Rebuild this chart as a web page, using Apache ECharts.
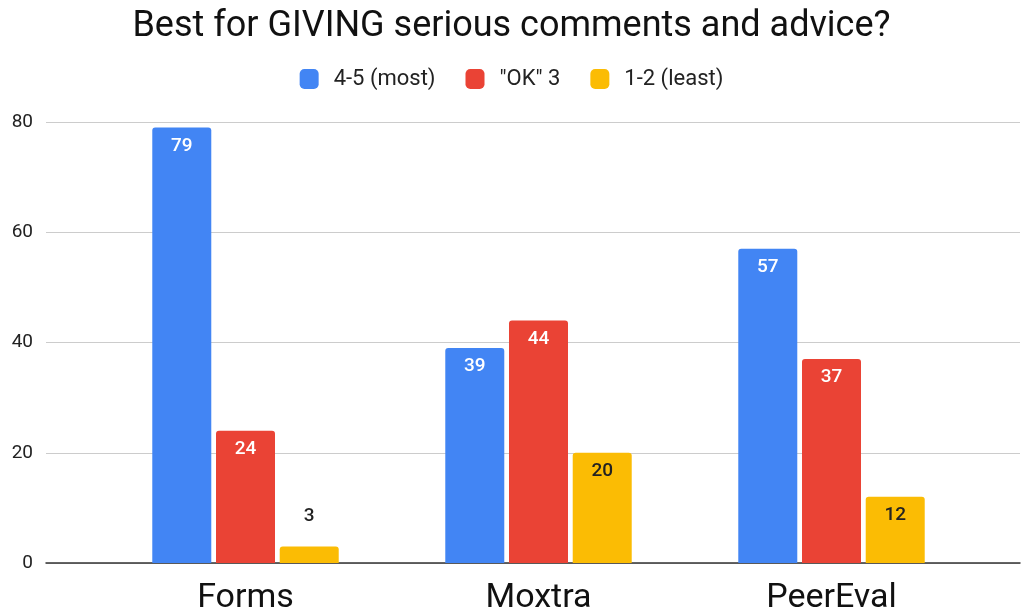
<!DOCTYPE html>
<html>
<head>
<meta charset="utf-8">
<script src="https://cdn.jsdelivr.net/npm/echarts@6/dist/echarts.min.js"></script>
<style>html,body{margin:0;padding:0;background:#fff}#c{width:1023px;height:616px}</style>
</head>
<body>
<div id="c"></div>
<script>
const categories = ['Forms', 'Moxtra', 'PeerEval'];
const seriesNames = ['4-5 (most)', '"OK" 3', '1-2 (least)'];
const mostValues = [79, 39, 57];
const okValues = [24, 44, 37];
const leastValues = [3, 20, 12];
const colors = ['#4285F4', '#EA4335', '#FBBC04'];
const labelColors = ['#ffffff', '#ffffff', '#222222'];
const yTicks = [0, 20, 40, 60, 80];

const allValues = [mostValues, okValues, leastValues];
const FONT = 'Roboto, Arial, sans-serif';

const chart = echarts.init(document.getElementById('c'), null, {renderer: 'canvas'});

function makeData(vals) {
  return vals.map(v => {
    if (v < 6) {
      return {value: v, label: {position: 'top', distance: 21, color: '#222222'}};
    }
    return v;
  });
}

const series = allValues.map((vals, i) => ({
  name: seriesNames[i],
  type: 'bar',
  xAxisIndex: 1,
  yAxisIndex: 1,
  barWidth: 59,
  barGap: '8%',
  itemStyle: {color: colors[i], borderRadius: [3, 3, 0, 0]},
  label: {
    show: true,
    position: 'insideTop',
    distance: 9,
    color: labelColors[i],
    fontFamily: FONT,
    fontSize: 19,
    fontWeight: 500
  },
  data: makeData(vals)
}));

chart.setOption({
  backgroundColor: '#ffffff',
  animation: false,
  color: colors,
  title: {
    text: 'Best for GIVING serious comments and advice?',
    left: 'center',
    top: 4,
    textStyle: {fontFamily: FONT, fontSize: 36, fontWeight: 'normal', color: '#111'}
  },
  legend: {
    top: 63,
    left: 'center',
    itemWidth: 19,
    itemHeight: 20,
    itemGap: 30,
    icon: 'roundRect',
    textStyle: {fontFamily: FONT, fontSize: 22, color: '#222', padding: [0, 0, 0, 10]},
    data: seriesNames
  },
  grid: [
    {left: 46, right: 3, top: 122, bottom: 53},
    {left: 99, right: 45, top: 122, bottom: 53}
  ],
  xAxis: [
    {
      type: 'category', gridIndex: 0, data: categories,
      axisLine: {show: true, lineStyle: {color: '#333', width: 1.5}},
      axisTick: {show: false}, axisLabel: {show: false}, splitLine: {show: false}
    },
    {
      type: 'category', gridIndex: 1, data: categories,
      axisLine: {show: false}, axisTick: {show: false},
      axisLabel: {fontFamily: FONT, fontSize: 34, color: '#111', margin: 18}
    }
  ],
  yAxis: [
    {
      type: 'value', gridIndex: 0, min: yTicks[0], max: yTicks[yTicks.length - 1], interval: 20,
      axisLine: {show: false}, axisTick: {show: false},
      axisLabel: {fontFamily: FONT, fontSize: 19, color: '#222', margin: 13},
      splitLine: {lineStyle: {color: '#cccccc', width: 1}}
    },
    {
      type: 'value', gridIndex: 1, min: yTicks[0], max: yTicks[yTicks.length - 1], interval: 20,
      show: false
    }
  ],
  series: series
});
</script>
</body>
</html>
